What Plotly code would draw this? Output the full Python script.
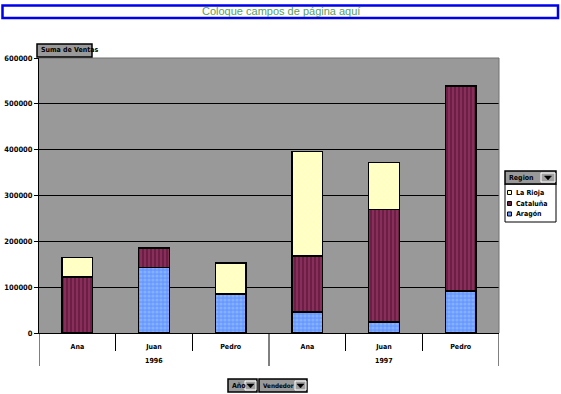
import plotly.graph_objects as go

years = ["1996", "1997"]
sellers = ["Ana", "Juan", "Pedro", "Ana", "Juan", "Pedro"]
aragon = [0, 143000, 85000, 46000, 24000, 92000]
cataluna = [122000, 42000, 0, 122000, 245000, 447000]
rioja = [43000, 0, 68000, 228000, 103000, 0]
y_ticks = [0, 100000, 200000, 300000, 400000, 500000, 600000]

W, H = 561, 394
L, R, T, B = 39, 499, 58, 333


def px(x):
    return (x - L) / (R - L)


def py(y):
    return (B - y) / (B - T)


FONT = "Liberation Sans Narrow, DejaVu Sans Condensed, Liberation Sans"

xpos = list(range(len(sellers)))

fig = go.Figure()
series = [
    ("Aragón", aragon, "#6699FF", ".", "#A8C4FF", 4, 0.5),
    ("Cataluña", cataluna, "#6B1F45", "|", "#C04A80", 4, 0.35),
    ("La Rioja", rioja, "#FFFFC0", "x", "#FFFFE8", 4, 0.3),
]
for name, vals, col, shp, fg, sz, sol in series:
    fig.add_trace(go.Bar(
        x=xpos, y=vals, name=name,
        marker=dict(color=col, line=dict(color="black", width=1.5),
                    pattern=dict(shape=shp, fgcolor=fg, size=sz, solidity=sol, bgcolor=col)),
        width=0.4, showlegend=False, hoverinfo="skip",
    ))

tickfont = dict(family=FONT, size=7, weight="bold", color="black")
fig.update_layout(
    width=W, height=H, barmode="stack",
    margin=dict(l=L, r=W - R, t=T, b=H - B, pad=0),
    paper_bgcolor="white", plot_bgcolor="#999999",
    font=dict(family=FONT, size=7, color="black"),
    hovermode=False,
    xaxis=dict(range=[-0.5, len(sellers) - 0.5], tickvals=xpos, ticktext=sellers,
               showline=True, linecolor="black", linewidth=1, ticks="", ticklabelstandoff=7,
               tickfont=tickfont, showgrid=False, zeroline=False, automargin=False, fixedrange=True),
    xaxis2=dict(range=[-0.5, len(sellers) - 0.5], overlaying="x", side="bottom",
                tickvals=[0.5, 1.5, 3.5, 4.5], ticks="outside", ticklen=17, tickcolor="black",
                showticklabels=False, showgrid=False, zeroline=False, automargin=False, fixedrange=True),
    yaxis=dict(range=[0, 600000], tickvals=y_ticks, ticktext=[str(v) for v in y_ticks],
               showgrid=True, gridcolor="black", gridwidth=1, zeroline=False,
               showline=True, linecolor="black", linewidth=1, ticks="outside", ticklen=4,
               tickcolor="black", tickfont=dict(family=FONT, size=7.5, weight="bold", color="black"),
               automargin=False, fixedrange=True),
)
# invisible trace on xaxis2 so it renders
fig.add_trace(go.Scatter(x=[0], y=[0], xaxis="x2", mode="markers",
                         marker=dict(opacity=0), showlegend=False, hoverinfo="skip"))

shapes = []
annos = []

# plot border top/right
shapes.append(dict(type="line", xref="paper", yref="paper", x0=0, x1=1, y0=1, y1=1,
                   line=dict(color="#707070", width=1)))
shapes.append(dict(type="line", xref="paper", yref="paper", x0=1, x1=1, y0=0, y1=1,
                   line=dict(color="#707070", width=1)))

# year group dividers and labels
for xv in [-0.5, 2.5, 5.5]:
    shapes.append(dict(type="line", xref="x", yref="paper", x0=xv, x1=xv, y0=0, y1=py(366),
                       line=dict(color="black", width=1)))
for i, yr in enumerate(years):
    annos.append(dict(text=yr, xref="x", yref="paper", x=3 * i + 1, y=py(361), showarrow=False,
                      xanchor="center", yanchor="middle", font=tickfont))

# title box
shapes.append(dict(type="rect", xref="paper", yref="paper", x0=px(2.5), x1=px(558), y0=py(5.5), y1=py(18),
                   line=dict(color="#0000EE", width=2.5), fillcolor="white", layer="above"))
annos.append(dict(text="Coloque campos de página aquí", xref="paper", yref="paper", x=px(281), y=py(11.5),
                  showarrow=False, font=dict(family="Liberation Sans", size=11, color="#5E9E5E"),
                  xanchor="center", yanchor="middle"))


def button(x0, x1, y0, y1, text, arrow=None, bg="#999999", size=7):
    shapes.append(dict(type="rect", xref="paper", yref="paper", x0=px(x0), x1=px(x1), y0=py(y0), y1=py(y1),
                       line=dict(color="black", width=1.5), fillcolor=bg, layer="above"))
    if arrow:
        a0, a1 = arrow
        shapes.append(dict(type="rect", xref="paper", yref="paper", x0=px(a0), x1=px(a1),
                           y0=py(y0 + 2), y1=py(y1 - 2), line=dict(color="white", width=1),
                           fillcolor="#A0A0A0", layer="above"))
        cx = (a0 + a1) / 2
        cy = (y0 + y1) / 2
        path = "M {} {} L {} {} L {} {} Z".format(px(cx - 3.5), py(cy - 1.5), px(cx + 3.5), py(cy - 1.5),
                                                  px(cx), py(cy + 2.5))
        shapes.append(dict(type="path", xref="paper", yref="paper", path=path,
                           fillcolor="black", line=dict(color="black", width=0.5), layer="above"))
    annos.append(dict(text=text, xref="paper", yref="paper", x=px(x0 + 2), y=py((y0 + y1) / 2),
                      showarrow=False, xanchor="left", yanchor="middle",
                      font=dict(family=FONT, size=size, color="black", weight="bold")))


button(37, 92, 44, 57, "Suma de Ventas")
button(228, 257, 379, 392, "Año", arrow=(245, 256))
button(259, 307, 379, 392, "Vendedor", arrow=(295, 306), size=6.3)

# legend
shapes.append(dict(type="rect", xref="paper", yref="paper", x0=px(505), x1=px(556), y0=py(184), y1=py(222),
                   line=dict(color="black", width=1), fillcolor="white", layer="above"))
button(505, 556, 171, 184, "Region", arrow=(541, 555))
leg = [("La Rioja", "#FFFFC0", 192.5), ("Cataluña", "#6B1F45", 203.5), ("Aragón", "#6699FF", 214)]
for name, col, yy in leg:
    shapes.append(dict(type="rect", xref="paper", yref="paper", x0=px(507.5), x1=px(511.5),
                       y0=py(yy - 2), y1=py(yy + 2), line=dict(color="black", width=1),
                       fillcolor=col, layer="above"))
    annos.append(dict(text=name, xref="paper", yref="paper", x=px(514), y=py(yy),
                      showarrow=False, xanchor="left", yanchor="middle",
                      font=dict(family=FONT, size=7, color="black", weight="bold")))

fig.update_layout(shapes=shapes, annotations=annos)
fig.write_html("out.html", config={"displayModeBar": False, "staticPlot": True},
               post_script="document.body.style.margin='0';document.body.style.padding='0';")
